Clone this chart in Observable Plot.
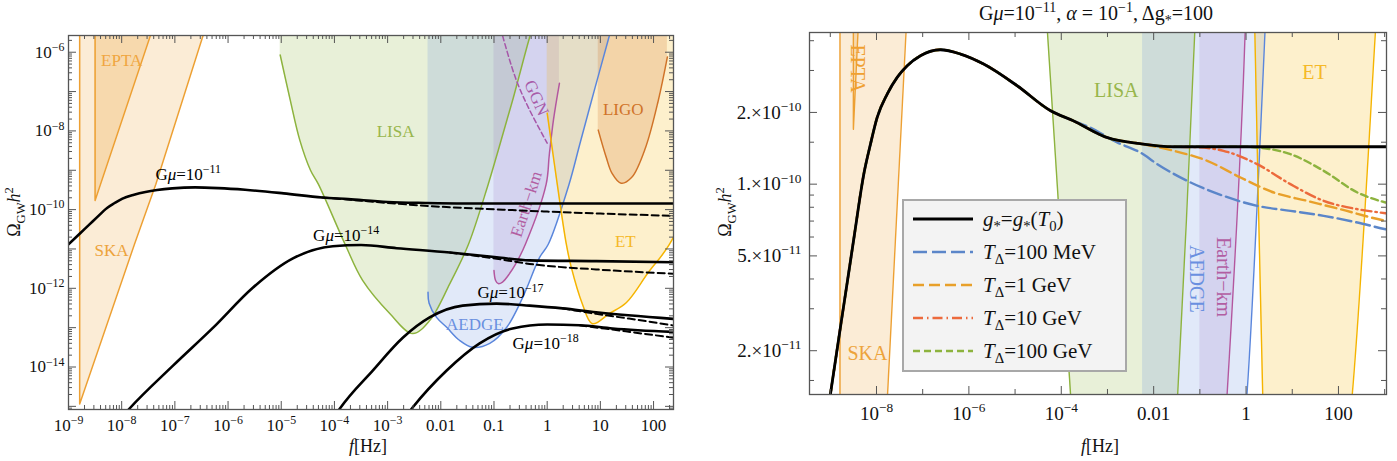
<!DOCTYPE html>
<html><head><meta charset="utf-8">
<script src="https://cdn.jsdelivr.net/npm/d3@7"></script>
<script src="https://cdn.jsdelivr.net/npm/@observablehq/plot@0.6"></script>
<style>
body{margin:0;background:#fff;}
#wrap{position:relative;width:1397px;height:461px;overflow:hidden;font-family:"Liberation Serif",serif;}
#wrap > svg{position:absolute;top:0;}
#wrap svg, #wrap svg text, #wrap svg g{font-family:"Liberation Serif", "Times New Roman", serif !important;}
</style></head><body><div id="wrap"></div>
<script>
// ---------- DATA (log10 f [Hz], log10 Omega_GW h^2) ----------
const skaLog   = [[-8.79,-3],[-8.79,-14.94],[-7.76,-10.88],[-7.36,-9.36],[-6.47,-5.575],[-6.1,-4.1]];
const eptaLog  = [[-8.5,-3],[-8.5,-9.77],[-8.40,-9.36],[-7.46,-5.575],[-7.1,-4.1]];
const lisaLog  = [[-5.02,-6.07],[-4.835,-7.19],[-4.65,-8.24],[-4.45,-9.0],[-4.30,-9.36],[-3.80,-10.88],[-3.47,-11.80],[-2.96,-12.64],[-2.53,-13.15],[-2.21,-12.82],[-1.83,-11.88],[-1.48,-10.88],[-1.11,-9.36],[-0.92,-8.49],[-0.65,-7.22],[-0.33,-5.62],[-0.1,-4.6]];
const aedgeLog = [[-2.24,-12.10],[-2.22,-12.38],[-2.08,-12.74],[-1.89,-12.99],[-1.65,-13.32],[-1.40,-13.50],[-1.08,-13.40],[-0.76,-12.99],[-0.46,-12.23],[-0.14,-11.21],[0.02,-10.88],[0.41,-9.36],[0.62,-8.3],[0.90,-6.9],[1.17,-5.575],[1.3,-4.9]];
const earthLog = [[-1.0,-11.55],[-0.97,-11.80],[-0.92,-11.88],[-0.84,-11.84],[-0.72,-11.65],[-0.60,-11.40],[-0.41,-10.88],[-0.02,-9.36],[0.04,-8.6],[0.12,-7.7],[0.23,-6.79]];
const ggnLog   = [[-0.95,-5.0],[-0.84,-5.575],[-0.58,-6.71],[-0.33,-7.47],[0.0,-8.31]];
const etLog    = [[0.0,-7.55],[0.10,-8.5],[0.19,-9.36],[0.36,-10.88],[0.45,-11.45],[0.66,-12.39],[0.85,-12.90],[1.17,-12.64],[1.49,-12.36],[1.90,-11.6],[2.30,-10.88],[2.80,-9.36],[3.3,-7.6]];
const ligoLog  = [[0.96,-7.98],[1.11,-8.67],[1.22,-9.08],[1.39,-9.33],[1.59,-9.18],[1.85,-8.42],[2.09,-7.22],[2.26,-6.12]];

const gmu11Log = [[-9.0,-10.885],[-8.78,-10.60],[-8.60,-10.37],[-8.476,-10.21],[-8.275,-9.958],[-8.13,-9.832],[-7.985,-9.72],[-7.768,-9.622],[-7.552,-9.552],[-7.335,-9.503],[-7.048,-9.461],[-6.62,-9.436],[-6.18,-9.454],[-5.68,-9.496],[-4.955,-9.587],[-4.23,-9.692],[-3.74,-9.734],[-3.0,-9.805],[-2.29,-9.83],[-1.57,-9.843],[0,-9.843],[3.1,-9.843]];
const gmu11DashLog = [[-4.23,-9.692],[-3.74,-9.745],[-3.0,-9.83],[-2.21,-9.91],[-1.0,-9.99],[0,-10.05],[1.0,-10.10],[2.4,-10.16]];
const gmu14Log = [[-7.95,-15.2],[-7.87,-15.08],[-7.03,-13.96],[-6.28,-13.00],[-5.53,-11.98],[-4.78,-11.24],[-4.03,-10.93],[-3.5,-10.90],[-2.83,-10.98],[-1.83,-11.09],[-0.95,-11.21],[-0.33,-11.29],[0.92,-11.31],[2.4,-11.34]];
const gmu14DashLog = [[-1.83,-11.09],[-0.95,-11.25],[-0.33,-11.38],[0.92,-11.52],[2.4,-11.63]];
const gmu17Log = [[-3.97,-15.2],[-3.90,-15.06],[-3.28,-14.09],[-2.71,-13.25],[-2.21,-12.74],[-1.59,-12.44],[-0.95,-12.39],[-0.33,-12.44],[0.29,-12.51],[0.92,-12.61],[2.4,-12.78]];
const gmu17DashLog = [[0.29,-12.51],[0.92,-12.65],[1.54,-12.77],[2.4,-12.95]];
const gmu18Log = [[-2.60,-15.15],[-2.53,-15.03],[-1.89,-14.09],[-1.27,-13.40],[-0.65,-13.02],[0,-12.92],[0.61,-12.94],[1.23,-13.02],[2.4,-13.11]];
const gmu18DashLog = [[0.61,-12.94],[1.23,-13.05],[2.4,-13.26]];

// right panel: departures from g*=g*(T0)
const t100MeVLog = [[-3.4,-9.76],[-2.79,-9.825],[-2.29,-9.867],[-1.92,-9.916],[-1.20,-9.993],[-0.49,-10.049],[0.24,-10.091],[0.96,-10.112],[1.68,-10.133],[2.41,-10.161],[3.02,-10.189],[3.1,-10.192]];
const t1GeVLog   = [[-2.29,-9.83],[-1.565,-9.86],[-0.84,-9.902],[-0.12,-9.972],[0.60,-10.035],[1.32,-10.07],[2.04,-10.105],[3.02,-10.154],[3.1,-10.157]];
const t10GeVLog  = [[-1.57,-9.843],[-1.05,-9.845],[-0.49,-9.86],[0.24,-9.916],[0.96,-10.0],[1.68,-10.07],[2.41,-10.105],[3.02,-10.122],[3.1,-10.124]];
const t100GeVLog = [[0.0,-9.843],[0.24,-9.846],[0.96,-9.874],[1.68,-9.944],[2.41,-10.035],[3.02,-10.077],[3.1,-10.081]];

// tick labels
const leftXTickValues = [1e-9,1e-8,1e-7,1e-6,1e-5,1e-4,1e-3,0.01,0.1,1,10,100];
const leftXTickLabels = ["10^{−9}","10^{−8}","10^{−7}","10^{−6}","10^{−5}","10^{−4}","10^{−3}","0.01","0.1","1","10","100"];
const leftYTickValues = [1e-14,1e-12,1e-10,1e-8,1e-6];
const leftYTickLabels = ["10^{−14}","10^{−12}","10^{−10}","10^{−8}","10^{−6}"];
const rightXTickValues = [1e-8,1e-6,1e-4,0.01,1,100];
const rightXTickLabels = ["10^{−8}","10^{−6}","10^{−4}","0.01","1","100"];
const rightYTickValues = [2e-11,5e-11,1e-10,2e-10];
const rightYTickLabels = ["2.×10^{−11}","5.×10^{−11}","1.×10^{−10}","2.×10^{−10}"];
const rightYMinorValues = [1.5e-11,3e-11,4e-11,6e-11,7e-11,8e-11,9e-11,1.5e-10,3e-10,4e-10];

// annotations
const gmuLabels = ["G~{μ}=10^{−11}","G~{μ}=10^{−14}","G~{μ}=10^{−17}","G~{μ}=10^{−18}"];
const gmuLabelLog = [[-6.75,-9.10],[-3.78,-10.66],[-0.69,-12.12],[-0.03,-13.40]];
const leftDetLabels = ["EPTA","SKA","LISA","LIGO","ET","AEDGE","GGN","Earth−km"];
const leftDetLabelLog = [[-8.0,-6.22],[-8.19,-11.04],[-2.85,-8.02],[1.43,-7.45],[1.47,-10.81],[-1.36,-12.92],[-0.20,-7.16],[-0.39,-9.86]];
const rightDetLabels = ["EPTA","SKA","LISA","ET","AEDGE","Earth−km"];
const rightDetLabelLog = [[-8.41,-9.515],[-8.195,-10.713],[-2.81,-9.608],[1.48,-9.532],[-1.07,-10.397],[-0.49,-10.39]];
const legendLabels = ["~{g}_{*}=~{g}_{*}(~{T}_{0})","~{T}_{Δ}=100 MeV","~{T}_{Δ}=1 GeV","~{T}_{Δ}=10 GeV","~{T}_{Δ}=100 GeV"];
const titleText = "G~{μ}=10^{−11}, ~{α} = 10^{−1}, Δg_{*}=100";
const yLabel = "Ω_{GW}~{h}^{2}";
const xLabel = "~{f}[Hz]";

// ---------- STYLE ----------
const FONT = '"Liberation Serif", "Times New Roman", serif';
const AX = "#555";
const COL = {orange:"#eda033", green:"#8db33e", blue:"#5a86dc", purple:"#9468bc", magenta:"#b3579f", gold:"#f5b400", ligo:"#d07328"};
const TOP = 1e-3;
const pts = a => a.map(([lf, lo]) => ({f: 10 ** lf, o: 10 ** lo}));

const detectorStyles = [
  {d: skaLog,   stroke: COL.orange, fill: COL.orange, fo: 0.2,  curve: "linear"},
  {d: eptaLog,  stroke: COL.orange, fill: COL.orange, fo: 0.25, curve: "linear"},
  {d: lisaLog,  stroke: COL.green,  fill: COL.green,  fo: 0.2,  curve: "catmull-rom"},
  {d: aedgeLog, stroke: COL.blue,   fill: COL.blue,   fo: 0.18, curve: "catmull-rom"},
  {d: earthLog, stroke: COL.magenta,fill: COL.purple, fo: 0.17, curve: "catmull-rom"},
  {d: etLog,    stroke: COL.gold,   fill: COL.gold,   fo: 0.2,  curve: "catmull-rom"},
  {d: ligoLog,  stroke: COL.ligo,   fill: COL.ligo,   fo: 0.22, curve: "catmull-rom"},
  {d: ggnLog,   stroke: "#a656a8",  fill: null, dash: "5,3",    curve: "catmull-rom"}
];
const leftDetStyle = [
  {c:"#f0a640"},{c:"#eda33b"},{c:"#98b64c"},{c:"#d07328"},{c:"#f5b928"},{c:"#6a90e0"},{c:"#a85aa8",r:66},{c:"#b25ea2",r:-72}
];
const rightDetStyle = [{c:"#f0a030",r:90},{c:"#eda33b"},{c:"#98b64c"},{c:"#f5b928"},{c:"#6a90e0",r:90},{c:"#b25ea2",r:90}];
const legendStyles = [
  {stroke:"#000", w:2.8, dash:null},
  {stroke:"#5b86c9", w:2.4, dash:"14,5"},
  {stroke:"#e8a02a", w:2.4, dash:"11,5"},
  {stroke:"#ec6a3c", w:2.4, dash:"10,4,1.5,4"},
  {stroke:"#8db33e", w:2.4, dash:"7,4"}
];

function detectorMarks(sw) {
  const m = [];
  for (const s of detectorStyles) if (s.fill)
    m.push(Plot.areaY(pts(s.d), {x:"f", y1:"o", y2: () => TOP, fill: s.fill, fillOpacity: s.fo, curve: s.curve, clip: true}));
  for (const s of detectorStyles)
    m.push(Plot.line(pts(s.d), {x:"f", y:"o", stroke: s.stroke, strokeWidth: sw, strokeDasharray: s.dash, curve: s.curve, clip: true}));
  return m;
}
function tickMarks(xMaj, xMin, yMaj, yMin, fw, fh, L) {
  const s = {stroke: AX, strokeWidth: 1};
  return [
    Plot.tickX(xMaj, {x: d => d, insetTop: fh - L[0], ...s}),
    Plot.tickX(xMaj, {x: d => d, insetBottom: fh - L[0], ...s}),
    Plot.tickX(xMin, {x: d => d, insetTop: fh - L[1], ...s}),
    Plot.tickX(xMin, {x: d => d, insetBottom: fh - L[1], ...s}),
    Plot.tickY(yMaj, {y: d => d, insetRight: fw - L[2], ...s}),
    Plot.tickY(yMaj, {y: d => d, insetLeft: fw - L[2], ...s}),
    Plot.tickY(yMin, {y: d => d, insetRight: fw - L[3], ...s}),
    Plot.tickY(yMin, {y: d => d, insetLeft: fw - L[3], ...s}),
    Plot.frame({stroke: AX, strokeWidth: 1.3})
  ];
}
const fmt = (vals, labs) => { const m = new Map(vals.map((v, i) => [v, labs[i]])); return d => m.has(d) ? m.get(d) : ""; };
const inDom = (v, dom) => v >= dom[0] * 0.9999 && v <= dom[1] * 1.0001;

// ---------- LEFT PANEL ----------
const xDomL = [1e-9, 10 ** 2.375], yDomL = [10 ** -15.08, 10 ** -5.575];
const xMajL = d3.range(-9, 3).map(e => 10 ** e);
const xMinL = d3.range(-9, 3).flatMap(e => d3.range(2, 10).map(m => m * 10 ** e)).filter(v => inDom(v, xDomL));
const yMajL = d3.range(-15, -5).map(e => 10 ** e);
const yMinL = d3.range(-16, -5).flatMap(e => d3.range(2, 10).map(m => m * 10 ** e)).filter(v => inDom(v, yDomL));

const leftMarks = [
  ...detectorMarks(1.5),
  ...leftDetLabels.map((t, i) => Plot.text([leftDetLabelLog[i]], {x: d => 10 ** d[0], y: d => 10 ** d[1], text: () => t, fill: leftDetStyle[i].c, fontSize: 17, rotate: leftDetStyle[i].r || 0})),
  ...[gmu11Log, gmu14Log, gmu17Log, gmu18Log].map(a => Plot.line(pts(a), {x:"f", y:"o", stroke:"#000", strokeWidth: 2.6, curve:"monotone-x", clip: true})),
  ...[gmu11DashLog, gmu14DashLog, gmu17DashLog, gmu18DashLog].map(a => Plot.line(pts(a), {x:"f", y:"o", stroke:"#000", strokeWidth: 2, strokeDasharray:"7,4", curve:"monotone-x", clip: true})),
  ...gmuLabels.map((t, i) => Plot.text([gmuLabelLog[i]], {x: d => 10 ** d[0], y: d => 10 ** d[1], text: () => t, fill: "#000", fontSize: 17})),
  ...tickMarks(xMajL, xMinL, yMajL, yMinL, 605, 374, [8, 4, 8, 4])
];
const left = Plot.plot({
  width: 690, height: 461, marginLeft: 68, marginRight: 17, marginTop: 35, marginBottom: 52,
  style: {fontFamily: FONT, fontSize: "17px", color: "#111", background: "transparent", overflow: "visible"},
  x: {type: "log", domain: xDomL, ticks: leftXTickValues, tickFormat: fmt(leftXTickValues, leftXTickLabels), tickSize: 0, tickPadding: 9, label: null},
  y: {type: "log", domain: yDomL, ticks: leftYTickValues, tickFormat: fmt(leftYTickValues, leftYTickLabels), tickSize: 0, tickPadding: 4, label: null},
  marks: leftMarks
});
left.style.left = "0px";

// ---------- RIGHT PANEL ----------
const xDomR = [10 ** -9.45, 10 ** 3.04], yDomR = [1.31e-11, 4.33e-10];
const xMedR = [-9, -7, -5, -3, -1, 1, 3].map(e => 10 ** e).filter(v => inDom(v, xDomR));
const withBase = own => [...gmu11Log.filter(p => p[0] < own[0][0]), ...own];
const rightMarks = [
  ...detectorMarks(1.4),
  ...rightDetLabels.map((t, i) => Plot.text([rightDetLabelLog[i]], {x: d => 10 ** d[0], y: d => 10 ** d[1], text: () => t, fill: rightDetStyle[i].c, fontSize: 20, rotate: rightDetStyle[i].r || 0})),
  ...[t100MeVLog, t1GeVLog, t10GeVLog, t100GeVLog].map((a, i) => Plot.line(pts(withBase(a)), {x:"f", y:"o", stroke: legendStyles[i + 1].stroke, strokeWidth: legendStyles[i + 1].w, strokeDasharray: legendStyles[i + 1].dash, curve:"monotone-x", clip: true})),
  Plot.line(pts(gmu11Log), {x:"f", y:"o", stroke:"#000", strokeWidth: 2.8, curve:"monotone-x", clip: true}),
  ...tickMarks(rightXTickValues, xMedR, rightYTickValues, rightYMinorValues, 577, 362, [8, 5, 8, 5])
];
const right = Plot.plot({
  width: 697, height: 461, marginLeft: 109, marginRight: 11, marginTop: 32, marginBottom: 67,
  style: {fontFamily: FONT, fontSize: "19px", color: "#111", background: "transparent", overflow: "visible"},
  x: {type: "log", domain: xDomR, ticks: rightXTickValues, tickFormat: fmt(rightXTickValues, rightXTickLabels), tickSize: 0, tickPadding: 12, label: null},
  y: {type: "log", domain: yDomR, ticks: rightYTickValues, tickFormat: fmt(rightYTickValues, rightYTickLabels), tickSize: 0, tickPadding: 8, label: null},
  marks: rightMarks
});
right.style.left = "700px";

const wrap = document.getElementById("wrap");
wrap.appendChild(left);
wrap.appendChild(right);

// ---------- overlay: titles, axis labels, legend ----------
const ov = d3.create("svg").attr("width", 1397).attr("height", 461).style("left", "0px")
  .attr("font-family", FONT).style("pointer-events", "none");
const addText = (s, x, y, size, anchor, rot) => {
  const t = ov.append("text").attr("x", x).attr("y", y).attr("font-size", size).attr("text-anchor", anchor).attr("fill", "#111").text(s);
  if (rot) t.attr("transform", `rotate(${rot},${x},${y})`);
  return t;
};
addText(titleText, 1096, 20, 20, "middle");
addText(xLabel, 368, 452, 18, "middle");
addText(xLabel, 1100, 452, 18, "middle");
addText(yLabel, 20, 212, 18, "middle", -90);
addText(yLabel, 731, 212, 18, "middle", -90);
const lg = ov.append("g").attr("transform", "translate(903,200)");
lg.append("rect").attr("width", 223).attr("height", 171).attr("fill", "#f3f3f3").attr("stroke", "#a8a8a8").attr("stroke-width", 2);
legendLabels.forEach((t, i) => {
  const y = 19 + i * 33, s = legendStyles[i];
  lg.append("line").attr("x1", 10).attr("x2", 70).attr("y1", y).attr("y2", y).attr("stroke", s.stroke).attr("stroke-width", s.w).attr("stroke-dasharray", s.dash);
  lg.append("text").attr("x", 80).attr("y", y + 7).attr("font-size", 21).attr("fill", "#111").text(t);
});
wrap.appendChild(ov.node());

// ---------- rich text (superscripts, subscripts, italics) ----------
const NS = "http://www.w3.org/2000/svg";
function rich(el, s, fs) {
  while (el.firstChild) el.removeChild(el.firstChild);
  let shift = 0;
  const parts = s.split(/(\^\{[^}]*\}|_\{[^}]*\}|~\{[^}]*\})/g).filter(p => p !== "");
  for (const p of parts) {
    const t = document.createElementNS(NS, "tspan");
    let target = 0, txt = p, size = null, it = false;
    if (p.startsWith("^{")) { target = -0.4 * fs; txt = p.slice(2, -1); size = 0.7 * fs; }
    else if (p.startsWith("_{")) { target = 0.25 * fs; txt = p.slice(2, -1); size = 0.7 * fs; }
    else if (p.startsWith("~{")) { txt = p.slice(2, -1); it = true; }
    const dy = target - shift;
    if (dy) t.setAttribute("dy", dy.toFixed(2));
    shift = target;
    if (size) t.setAttribute("font-size", size.toFixed(2));
    if (it) t.setAttribute("font-style", "italic");
    t.textContent = txt;
    el.appendChild(t);
  }
}
wrap.querySelectorAll("text").forEach(el => {
  const s = el.textContent;
  if (/[\^_~]\{/.test(s)) rich(el, s, parseFloat(getComputedStyle(el).fontSize) || 17);
});
</script></body></html>
